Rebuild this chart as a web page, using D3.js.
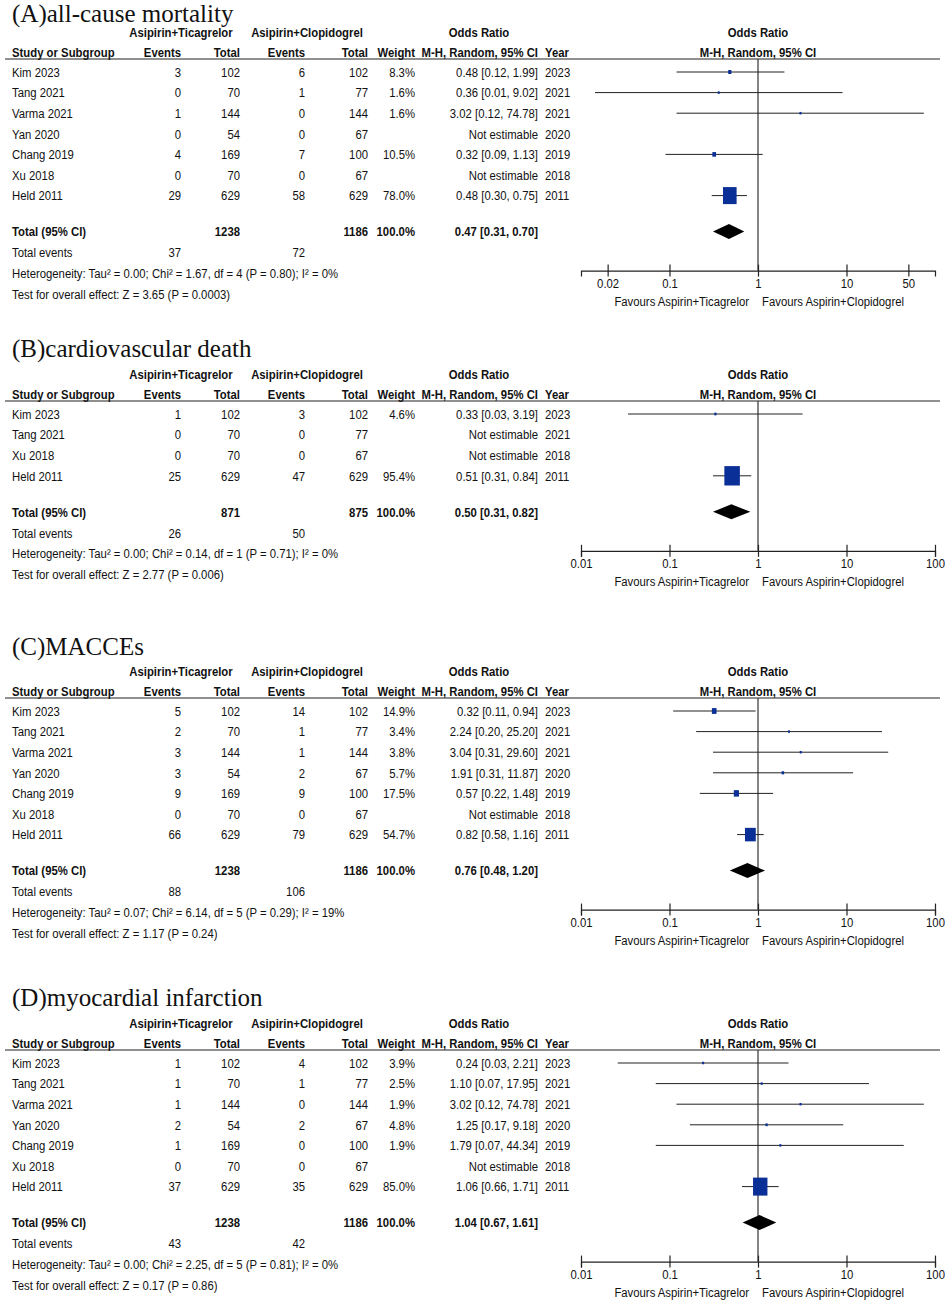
<!DOCTYPE html>
<html>
<head>
<meta charset="utf-8">
<script src="https://cdn.jsdelivr.net/npm/d3@7"></script>
<style>
body { margin: 0; background: #fff; }
svg { display: block; background: #fff; }
text { font-family: "Liberation Sans", Arial, sans-serif; fill: #111; }
.title { font-family: "Liberation Serif", "Times New Roman", serif; }
</style>
</head>
<body>
<svg></svg>
<script>
// one row per study: name, events T, total T, events C, total C, weight %, OR, low, high, year
var rowsA = [
    ["Kim 2023", 3, 102, 6, 102, 8.3, 0.48, 0.12, 1.99, 2023],
    ["Tang 2021", 0, 70, 1, 77, 1.6, 0.36, 0.0144, 9.02, 2021],
    ["Varma 2021", 1, 144, 0, 144, 1.6, 3.02, 0.12, 74.78, 2021],
    ["Yan 2020", 0, 54, 0, 67, null, null, null, null, 2020],
    ["Chang 2019", 4, 169, 7, 100, 10.5, 0.32, 0.09, 1.13, 2019],
    ["Xu 2018", 0, 70, 0, 67, null, null, null, null, 2018],
    ["Held 2011", 29, 629, 58, 629, 78.0, 0.48, 0.30, 0.75, 2011]
];
var rowsB = [
    ["Kim 2023", 1, 102, 3, 102, 4.6, 0.33, 0.034, 3.19, 2023],
    ["Tang 2021", 0, 70, 0, 77, null, null, null, null, 2021],
    ["Xu 2018", 0, 70, 0, 67, null, null, null, null, 2018],
    ["Held 2011", 25, 629, 47, 629, 95.4, 0.51, 0.31, 0.84, 2011]
];
var rowsC = [
    ["Kim 2023", 5, 102, 14, 102, 14.9, 0.32, 0.11, 0.94, 2023],
    ["Tang 2021", 2, 70, 1, 77, 3.4, 2.24, 0.20, 25.20, 2021],
    ["Varma 2021", 3, 144, 1, 144, 3.8, 3.04, 0.31, 29.60, 2021],
    ["Yan 2020", 3, 54, 2, 67, 5.7, 1.91, 0.31, 11.87, 2020],
    ["Chang 2019", 9, 169, 9, 100, 17.5, 0.57, 0.22, 1.48, 2019],
    ["Xu 2018", 0, 70, 0, 67, null, null, null, null, 2018],
    ["Held 2011", 66, 629, 79, 629, 54.7, 0.82, 0.58, 1.16, 2011]
];
var rowsD = [
    ["Kim 2023", 1, 102, 4, 102, 3.9, 0.24, 0.026, 2.21, 2023],
    ["Tang 2021", 1, 70, 1, 77, 2.5, 1.10, 0.07, 17.95, 2021],
    ["Varma 2021", 1, 144, 0, 144, 1.9, 3.02, 0.12, 74.78, 2021],
    ["Yan 2020", 2, 54, 2, 67, 4.8, 1.25, 0.17, 9.18, 2020],
    ["Chang 2019", 1, 169, 0, 100, 1.9, 1.79, 0.07, 44.34, 2019],
    ["Xu 2018", 0, 70, 0, 67, null, null, null, null, 2018],
    ["Held 2011", 37, 629, 35, 629, 85.0, 1.06, 0.66, 1.71, 2011]
];

// totals: total T, total C, events T, events C, OR, low, high
var totalA = [1238, 1186, 37, 72, 0.47, 0.31, 0.70];
var totalB = [871, 875, 26, 50, 0.50, 0.31, 0.82];
var totalC = [1238, 1186, 88, 106, 0.76, 0.48, 1.20];
var totalD = [1238, 1186, 43, 42, 1.04, 0.67, 1.61];

var titles = ["(A)all-cause mortality", "(B)cardiovascular death", "(C)MACCEs", "(D)myocardial infarction"];
var hets = [
    "Heterogeneity: Tau² = 0.00; Chi² = 1.67, df = 4 (P = 0.80); I² = 0%",
    "Heterogeneity: Tau² = 0.00; Chi² = 0.14, df = 1 (P = 0.71); I² = 0%",
    "Heterogeneity: Tau² = 0.07; Chi² = 6.14, df = 5 (P = 0.29); I² = 19%",
    "Heterogeneity: Tau² = 0.00; Chi² = 2.25, df = 5 (P = 0.81); I² = 0%"
];
var effects = [
    "Test for overall effect: Z = 3.65 (P = 0.0003)",
    "Test for overall effect: Z = 2.77 (P = 0.006)",
    "Test for overall effect: Z = 1.17 (P = 0.24)",
    "Test for overall effect: Z = 0.17 (P = 0.86)"
];
var ticksA = [0.02, 0.1, 1, 10, 50];
var ticksBCD = [0.01, 0.1, 1, 10, 100];
var groupNames = ["Asipirin+Ticagrelor", "Asipirin+Clopidogrel"];
var favours = ["Favours Aspirin+Ticagrelor", "Favours Aspirin+Clopidogrel"];

var width = 946,
    height = 1301,
    fs = 13.5,      // table font size
    sx = 0.84,      // the figure's text is horizontally squeezed
    rowStep = 20.6;

var panels = [
    { title: titles[0], rows: rowsA, total: totalA, het: hets[0], eff: effects[0], ticks: ticksA, top: 59, titleY: 22 },
    { title: titles[1], rows: rowsB, total: totalB, het: hets[1], eff: effects[1], ticks: ticksBCD, top: 401, titleY: 357 },
    { title: titles[2], rows: rowsC, total: totalC, het: hets[2], eff: effects[2], ticks: ticksBCD, top: 698, titleY: 655 },
    { title: titles[3], rows: rowsD, total: totalD, het: hets[3], eff: effects[3], ticks: ticksBCD, top: 1050, titleY: 1006 }
];

// column anchors
var col = { study: 12, ev1: 181, tot1: 240, ev2: 305, tot2: 368, wt: 415, ci: 538, year: 545 };

var svg = d3.select("svg")
    .attr("width", width)
    .attr("height", height);

var x = d3.scaleLog()
    .domain([0.01, 100])
    .range([581, 935]);

// box height from weight
var box = d3.scalePow()
    .exponent(0.65)
    .domain([0, 100])
    .range([0, 20]);

var f2 = d3.format(".2f");

function txt(g, px, py, s, anchor, bold) {
    return g.append("text")
        .attr("transform", "translate(" + [px, py] + ") scale(" + sx + ",1)")
        .attr("text-anchor", anchor || "start")
        .attr("dy", "0.35em")
        .style("font-size", fs + "px")
        .style("font-weight", bold ? "bold" : null)
        .text(s);
}

function ciLabel(or, lo, hi) {
    return f2(or) + " [" + f2(lo) + ", " + f2(hi) + "]";
}

panels.forEach(drawPanel);

function drawPanel(p) {
    var L = p.top;
    var g = svg.append("g");

    g.append("text")
        .attr("class", "title")
        .attr("x", 12)
        .attr("y", p.titleY)
        .style("font-size", "25px")
        .text(p.title);

    // headers
    txt(g, 181, L - 27, groupNames[0], "middle", true);
    txt(g, 307, L - 27, groupNames[1], "middle", true);
    txt(g, 479, L - 27, "Odds Ratio", "middle", true);
    txt(g, x(1), L - 27, "Odds Ratio", "middle", true);

    var hy = L - 7;
    txt(g, col.study, hy, "Study or Subgroup", "start", true);
    txt(g, col.ev1, hy, "Events", "end", true);
    txt(g, col.tot1, hy, "Total", "end", true);
    txt(g, col.ev2, hy, "Events", "end", true);
    txt(g, col.tot2, hy, "Total", "end", true);
    txt(g, col.wt, hy, "Weight", "end", true);
    txt(g, col.ci, hy, "M-H, Random, 95% CI", "end", true);
    txt(g, col.year, hy, "Year", "start", true);
    txt(g, x(1), hy, "M-H, Random, 95% CI", "middle", true);

    g.append("line")
        .attr("x1", 5).attr("x2", 940)
        .attr("y1", L).attr("y2", L)
        .attr("stroke", "#222")
        .attr("stroke-width", 1.2);

    var y = i => L + 13 + i * rowStep;
    var lastY = y(p.rows.length - 1);
    var totY = lastY + 36;
    var axisY = totY + 39;

    p.rows.forEach((r, i) => {
        var ry = y(i);
        txt(g, col.study, ry, r[0]);
        txt(g, col.ev1, ry, r[1], "end");
        txt(g, col.tot1, ry, r[2], "end");
        txt(g, col.ev2, ry, r[3], "end");
        txt(g, col.tot2, ry, r[4], "end");
        if (r[5] != null) txt(g, col.wt, ry, r[5].toFixed(1) + "%", "end");
        txt(g, col.ci, ry, r[6] == null ? "Not estimable" : ciLabel(r[6], r[7], r[8]), "end");
        txt(g, col.year, ry, r[9]);
    });

    // vertical line of no effect
    g.append("line")
        .attr("x1", x(1)).attr("x2", x(1))
        .attr("y1", L).attr("y2", axisY)
        .attr("stroke", "#333")
        .attr("stroke-width", 1.2);

    var est = p.rows.map((r, i) => ({ or: r[6], lo: r[7], hi: r[8], w: r[5], y: y(i) }))
        .filter(d => d.or != null);

    g.selectAll(".ci")
        .data(est)
        .enter().append("line")
        .attr("class", "ci")
        .attr("x1", d => x(Math.max(d.lo, 0.01)))
        .attr("x2", d => x(Math.min(d.hi, 100)))
        .attr("y1", d => d.y).attr("y2", d => d.y)
        .attr("stroke", "#222")
        .attr("stroke-width", 1);

    g.selectAll(".box")
        .data(est)
        .enter().append("rect")
        .attr("class", "box")
        .attr("x", d => x(d.or) - Math.max(box(d.w), 2.5) * 0.4)
        .attr("y", d => d.y - Math.max(box(d.w), 2.5) / 2)
        .attr("width", d => Math.max(box(d.w), 2.5) * 0.8)
        .attr("height", d => Math.max(box(d.w), 2.5))
        .attr("fill", "#0a2f96");

    // totals
    var t = p.total;
    txt(g, col.study, totY, "Total (95% CI)", "start", true);
    txt(g, col.tot1, totY, t[0], "end", true);
    txt(g, col.tot2, totY, t[1], "end", true);
    txt(g, col.wt, totY, "100.0%", "end", true);
    txt(g, col.ci, totY, ciLabel(t[4], t[5], t[6]), "end", true);

    g.append("path")
        .attr("d", "M" + [x(t[5]), totY] + "L" + [x(t[4]), totY - 7.5] +
            "L" + [x(t[6]), totY] + "L" + [x(t[4]), totY + 7.5] + "Z")
        .attr("fill", "#000");

    var evY = totY + 21;
    txt(g, col.study, evY, "Total events");
    txt(g, col.ev1, evY, t[2], "end");
    txt(g, col.ev2, evY, t[3], "end");
    txt(g, col.study, evY + 20.7, p.het);
    txt(g, col.study, evY + 41.2, p.eff);

    // axis
    var ax = g.append("g")
        .attr("transform", "translate(0," + axisY + ")")
        .call(d3.axisBottom(x)
            .tickValues(p.ticks)
            .tickFormat(d3.format("~g"))
            .tickSizeOuter(0)
            .tickSize(6));

    ax.select(".domain").attr("stroke", "#222").attr("stroke-width", 1.2);
    ax.selectAll(".tick line").attr("y1", -6).attr("y2", 6).attr("stroke", "#222").attr("stroke-width", 1.2);
    ax.selectAll(".tick text")
        .attr("y", 8)
        .attr("transform", "scale(" + sx + ",1)")
        .style("font-size", fs + "px")
        .style("font-family", "'Liberation Sans', Arial, sans-serif")
        .attr("fill", "#111");

    txt(g, x(1) - 9, axisY + 30.5, favours[0], "end");
    txt(g, x(1) + 4, axisY + 30.5, favours[1], "start");
}
</script>
</body>
</html>
